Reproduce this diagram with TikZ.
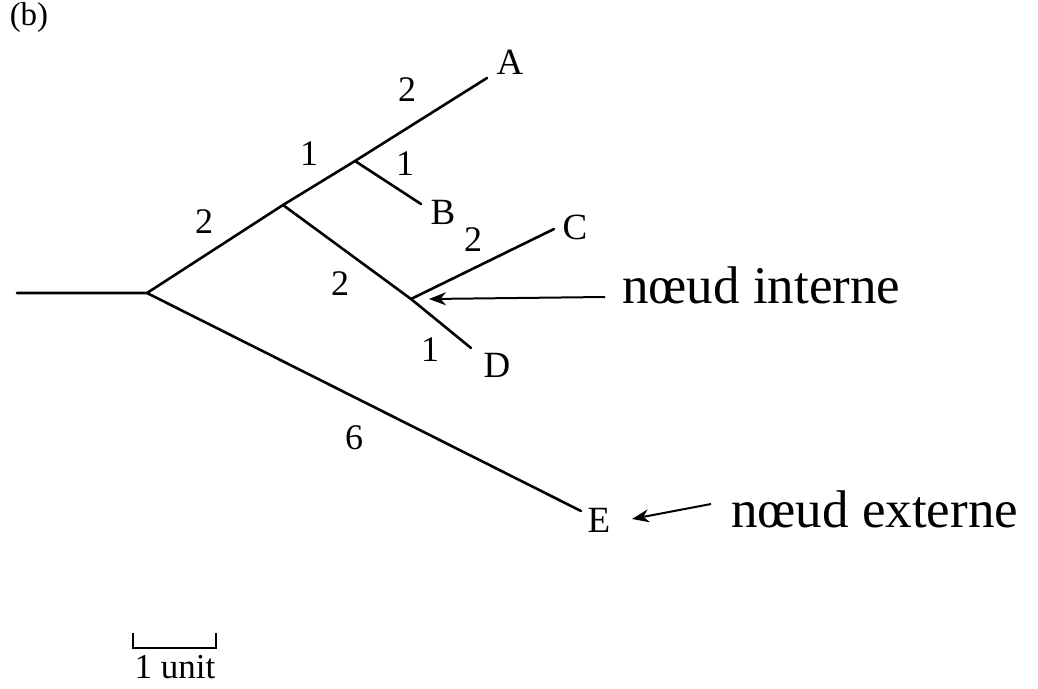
\documentclass[tikz,border=0pt]{standalone}
\usepackage{fontspec}
\setmainfont{Liberation Serif}
\usepackage{tikz}
\usetikzlibrary{arrows.meta, positioning}
\tikzstyle{branch} = [line width=2.6pt, line cap=round]
\tikzstyle{leaf} = [font=\fontsize{37}{40}\selectfont, inner sep=0pt]
\tikzstyle{blen} = [font=\fontsize{36}{40}\selectfont, inner sep=0pt]
\tikzstyle{note} = [font=\fontsize{53}{60}\selectfont, inner sep=0pt, anchor=base west]
\tikzstyle{arrow} = [-{Stealth[length=17pt, width=13pt]}, line width=2pt]

\begin{document}
\begin{tikzpicture}[x=1pt, y=-1pt]
    \useasboundingbox (0,0) rectangle (1038,688);

    % Tree nodes
    \coordinate (start) at (17,293);
    \coordinate (r) at (147,293);
    \coordinate (n1) at (283,205);
    \coordinate (n2) at (355,161);
    \coordinate (n3) at (411,299);
    \coordinate (tA) at (487,78);
    \coordinate (tB) at (421,204);
    \coordinate (tC) at (554,229);
    \coordinate (tD) at (471,348);
    \coordinate (tE) at (581,511);

    % Branches
    \draw[branch] (start) -- (r) -- (n1) -- (n2) -- (tA);
    \draw[branch] (n2) -- (tB);
    \draw[branch] (n1) -- (n3) -- (tD);
    \draw[branch] (n3) -- (tC);
    \draw[branch] (r) -- (tE);

    % Leaves
    \node[leaf] (A) at (510,62) {A};
    \node[leaf] (B) at (443,212) {B};
    \node[leaf] (C) at (575,227) {C};
    \node[leaf] (D) at (497,365) {D};
    \node[leaf] (E) at (599,520) {E};

    % Branch lengths
    \node[blen] (lA) at (407,90) {2};
    \node[blen] (l12) at (309,154) {1};
    \node[blen] (lB) at (405,164) {1};
    \node[blen] (lr1) at (204,222) {2};
    \node[blen] (lC) at (473,240) {2};
    \node[blen] (l13) at (340,284) {2};
    \node[blen] (lD) at (430,350) {1};
    \node[blen] (lE) at (354,438) {6};

    % Notes
    \node[note] (interne) at (622,303) {nœud interne};
    \node[note] (externe) at (731,527) {nœud externe};
    \coordinate (ai) at (605,297);
    \coordinate (ti) at (429,299);
    \coordinate (ae) at (711,504);
    \coordinate (te) at (632,519);
    \draw[arrow] (ai) -- (ti);
    \draw[arrow] (ae) -- (te);

    % Scale bar
    \coordinate (s0) at (133,633);
    \coordinate (s1) at (216,633);
    \draw[line width=2pt] (s0) -- ++(0,15) -| (s1);
    \node[font=\fontsize{35}{38}\selectfont, inner sep=0pt, anchor=base] (unit) at (175,678) {1 unit};

    \node[font=\fontsize{33}{36}\selectfont, inner sep=0pt] (label) at (29,18) {(b)};
\end{tikzpicture}
\end{document}
